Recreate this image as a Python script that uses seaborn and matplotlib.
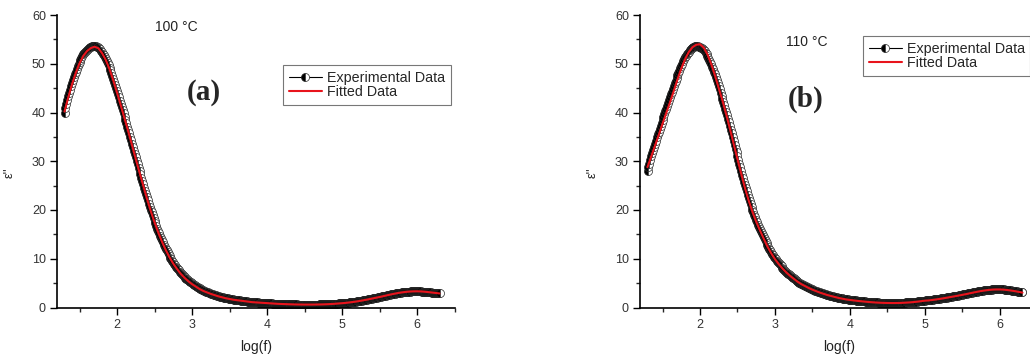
import numpy as np
import pandas as pd
import matplotlib
matplotlib.use("Agg")
import matplotlib.pyplot as plt
from matplotlib.lines import Line2D
from matplotlib.ticker import MultipleLocator
import seaborn as sns

# ---- 100 °C : measured loss ε'' ----
# one row per 0.1 decade, log(f) = 1.3000 ... 6.3000 in steps of 0.0125
exp_100 = [
    40.0, 40.85, 41.7, 42.5, 43.3, 44.0, 44.7, 45.35,
    46.0, 46.65, 47.3, 47.85, 48.4, 48.95, 49.5, 49.95,
    50.4, 50.8, 51.2, 51.55, 51.9, 52.2, 52.5, 52.7,
    52.9, 53.1, 53.3, 53.4, 53.5, 53.6, 53.65, 53.68,
    53.7, 53.65, 53.6, 53.5, 53.4, 53.2, 53.0, 52.7,
    52.4, 52.1, 51.8, 51.4, 51.0, 50.6, 50.2, 49.7,
    49.2, 48.65, 48.1, 47.5, 46.9, 46.3, 45.7, 45.05,
    44.4, 43.75, 43.1, 42.45, 41.8, 41.15, 40.5, 39.8,
    39.1, 38.45, 37.8, 37.1, 36.4, 35.7, 35.0, 34.3,
    33.6, 32.9, 32.2, 31.5, 30.8, 30.1, 29.4, 28.7,
    28.0, 27.3, 26.6, 25.95, 25.3, 24.6, 23.9, 23.25,
    22.6, 21.95, 21.3, 20.7, 20.1, 19.5, 18.9, 18.35,
    17.8, 17.25, 16.7, 16.2, 15.7, 15.2, 14.7, 14.25,
    13.8, 13.35, 12.9, 12.5, 12.1, 11.7, 11.3, 10.95,
    10.6, 10.25, 9.9, 9.6, 9.3, 9.0, 8.7, 8.4,
    8.1, 7.85, 7.6, 7.35, 7.1, 6.9, 6.7, 6.5,
    6.3, 6.1, 5.9, 5.75, 5.6, 5.45, 5.3, 5.15,
    5.0, 4.85, 4.7, 4.55, 4.4, 4.27, 4.15, 4.02,
    3.9, 3.8, 3.7, 3.6, 3.5, 3.42, 3.35, 3.27,
    3.2, 3.1, 3.0, 2.92, 2.85, 2.78, 2.72, 2.66,
    2.6, 2.53, 2.47, 2.41, 2.35, 2.3, 2.25, 2.2,
    2.15, 2.1, 2.05, 2.0, 1.95, 1.91, 1.87, 1.83,
    1.8, 1.76, 1.72, 1.68, 1.65, 1.61, 1.58, 1.55,
    1.52, 1.5, 1.47, 1.45, 1.42, 1.4, 1.37, 1.35,
    1.32, 1.3, 1.27, 1.25, 1.22, 1.2, 1.17, 1.15,
    1.12, 1.1, 1.09, 1.07, 1.06, 1.04, 1.03, 1.01,
    1.0, 0.98, 0.97, 0.96, 0.95, 0.93, 0.92, 0.91,
    0.9, 0.88, 0.87, 0.86, 0.85, 0.83, 0.82, 0.81,
    0.8, 0.79, 0.78, 0.77, 0.76, 0.75, 0.74, 0.73,
    0.72, 0.71, 0.7, 0.69, 0.69, 0.68, 0.67, 0.66,
    0.66, 0.65, 0.65, 0.64, 0.64, 0.63, 0.63, 0.62,
    0.62, 0.61, 0.61, 0.61, 0.61, 0.6, 0.6, 0.6,
    0.6, 0.6, 0.6, 0.6, 0.6, 0.6, 0.6, 0.6,
    0.6, 0.6, 0.6, 0.6, 0.61, 0.61, 0.61, 0.61,
    0.62, 0.62, 0.63, 0.63, 0.64, 0.64, 0.65, 0.66,
    0.67, 0.68, 0.69, 0.7, 0.71, 0.72, 0.73, 0.74,
    0.76, 0.77, 0.79, 0.8, 0.82, 0.83, 0.85, 0.86,
    0.88, 0.89, 0.91, 0.93, 0.95, 0.97, 0.99, 1.01,
    1.04, 1.06, 1.09, 1.11, 1.14, 1.16, 1.19, 1.22,
    1.25, 1.28, 1.31, 1.34, 1.38, 1.41, 1.45, 1.48,
    1.52, 1.55, 1.59, 1.63, 1.67, 1.71, 1.75, 1.79,
    1.83, 1.87, 1.91, 1.95, 1.99, 2.03, 2.07, 2.11,
    2.15, 2.19, 2.23, 2.27, 2.32, 2.36, 2.41, 2.45,
    2.5, 2.54, 2.58, 2.62, 2.67, 2.71, 2.75, 2.79,
    2.83, 2.87, 2.91, 2.94, 2.98, 3.01, 3.04, 3.07,
    3.1, 3.12, 3.15, 3.17, 3.2, 3.22, 3.24, 3.25,
    3.27, 3.28, 3.29, 3.3, 3.31, 3.31, 3.32, 3.32,
    3.32, 3.31, 3.31, 3.3, 3.3, 3.28, 3.27, 3.25,
    3.24, 3.22, 3.2, 3.18, 3.16, 3.14, 3.12, 3.09,
    3.07, 3.04, 3.02, 3.0, 2.98, 2.95, 2.93, 2.9,
    2.88,
]

# ---- 110 °C : measured loss ε'', same frequency grid ----
exp_110 = [
    28.0, 28.75, 29.5, 30.25, 31.0, 31.65, 32.3, 32.95,
    33.6, 34.25, 34.9, 35.5, 36.1, 36.7, 37.3, 37.9,
    38.5, 39.1, 39.7, 40.25, 40.8, 41.4, 42.0, 42.55,
    43.1, 43.7, 44.3, 44.85, 45.4, 45.95, 46.5, 47.05,
    47.6, 48.1, 48.6, 49.1, 49.6, 50.05, 50.5, 50.9,
    51.3, 51.65, 51.95, 52.25, 52.5, 52.75, 52.95, 53.15,
    53.3, 53.4, 53.5, 53.55, 53.6, 53.6, 53.55, 53.5,
    53.4, 53.3, 53.15, 53.0, 52.8, 52.55, 52.25, 51.95,
    51.6, 51.2, 50.8, 50.35, 49.9, 49.4, 48.9, 48.35,
    47.8, 47.2, 46.6, 46.0, 45.4, 44.75, 44.1, 43.45,
    42.8, 42.15, 41.5, 40.8, 40.1, 39.4, 38.7, 37.95,
    37.2, 36.45, 35.7, 34.9, 34.1, 33.35, 32.6, 31.8,
    31.0, 30.25, 29.5, 28.75, 28.0, 27.25, 26.5, 25.8,
    25.1, 24.45, 23.8, 23.15, 22.5, 21.9, 21.3, 20.7,
    20.1, 19.55, 19.0, 18.5, 18.0, 17.5, 17.0, 16.55,
    16.1, 15.65, 15.2, 14.8, 14.4, 14.0, 13.6, 13.2,
    12.8, 12.45, 12.1, 11.75, 11.4, 11.05, 10.7, 10.4,
    10.1, 9.85, 9.6, 9.35, 9.1, 8.87, 8.65, 8.42,
    8.2, 7.97, 7.75, 7.52, 7.3, 7.12, 6.95, 6.77,
    6.6, 6.43, 6.27, 6.11, 5.95, 5.8, 5.65, 5.5,
    5.35, 5.22, 5.1, 4.97, 4.85, 4.75, 4.65, 4.55,
    4.45, 4.35, 4.25, 4.15, 4.05, 3.96, 3.87, 3.78,
    3.7, 3.62, 3.55, 3.47, 3.4, 3.32, 3.25, 3.17,
    3.1, 3.03, 2.97, 2.91, 2.85, 2.78, 2.72, 2.66,
    2.6, 2.55, 2.5, 2.45, 2.4, 2.35, 2.3, 2.25,
    2.2, 2.15, 2.1, 2.05, 2.0, 1.96, 1.92, 1.88,
    1.85, 1.81, 1.77, 1.73, 1.7, 1.67, 1.65, 1.62,
    1.6, 1.57, 1.55, 1.52, 1.5, 1.47, 1.45, 1.42,
    1.4, 1.38, 1.36, 1.34, 1.32, 1.3, 1.28, 1.26,
    1.24, 1.22, 1.2, 1.18, 1.17, 1.15, 1.13, 1.11,
    1.1, 1.08, 1.07, 1.06, 1.05, 1.04, 1.03, 1.02,
    1.01, 1.0, 0.99, 0.98, 0.98, 0.97, 0.97, 0.96,
    0.96, 0.95, 0.95, 0.95, 0.95, 0.95, 0.95, 0.95,
    0.95, 0.95, 0.95, 0.95, 0.96, 0.96, 0.97, 0.98,
    0.99, 1.0, 1.01, 1.02, 1.03, 1.04, 1.05, 1.06,
    1.08, 1.09, 1.11, 1.13, 1.15, 1.17, 1.19, 1.21,
    1.23, 1.25, 1.27, 1.29, 1.32, 1.34, 1.37, 1.39,
    1.42, 1.44, 1.46, 1.48, 1.5, 1.52, 1.55, 1.57,
    1.6, 1.62, 1.65, 1.67, 1.7, 1.73, 1.76, 1.79,
    1.82, 1.85, 1.88, 1.91, 1.95, 1.98, 2.01, 2.04,
    2.08, 2.11, 2.15, 2.18, 2.22, 2.25, 2.29, 2.32,
    2.36, 2.39, 2.43, 2.46, 2.5, 2.53, 2.57, 2.61,
    2.65, 2.68, 2.72, 2.76, 2.8, 2.84, 2.88, 2.92,
    2.96, 3.0, 3.04, 3.08, 3.12, 3.16, 3.2, 3.24,
    3.28, 3.31, 3.35, 3.38, 3.42, 3.45, 3.48, 3.51,
    3.54, 3.56, 3.59, 3.61, 3.64, 3.66, 3.68, 3.69,
    3.71, 3.72, 3.73, 3.73, 3.74, 3.74, 3.74, 3.74,
    3.74, 3.73, 3.72, 3.71, 3.7, 3.68, 3.66, 3.64,
    3.62, 3.6, 3.57, 3.54, 3.51, 3.48, 3.45, 3.42,
    3.39, 3.35, 3.32, 3.28, 3.24, 3.2, 3.17, 3.13,
    3.09,
]

# ---- fitted curves, log(f) = 1.30 ... 6.30 in steps of 0.05 ----
fit_100 = [
    40.2, 43.1, 45.8, 48.1, 50.1, 51.6, 52.6, 53.2, 53.5, 53.2,
    52.2, 50.8, 48.9, 46.6, 44.1, 41.5, 38.8, 36.1, 33.3, 30.5,
    27.7, 25.0, 22.3, 19.8, 17.5, 15.4, 13.5, 11.8, 10.3, 9.0,
    7.9, 6.9, 6.1, 5.4, 4.8, 4.3, 3.8, 3.4, 3.1, 2.8,
    2.55, 2.3, 2.1, 1.9, 1.75, 1.6, 1.5, 1.4, 1.3, 1.2,
    1.1, 1.05, 1.0, 0.95, 0.9, 0.85, 0.8, 0.75, 0.72, 0.69,
    0.66, 0.64, 0.62, 0.61, 0.6, 0.6, 0.6, 0.61, 0.62, 0.64,
    0.67, 0.71, 0.76, 0.82, 0.88, 0.95, 1.04, 1.14, 1.25, 1.38,
    1.52, 1.67, 1.83, 1.99, 2.15, 2.32, 2.5, 2.67, 2.83, 2.98,
    3.1, 3.2, 3.27, 3.31, 3.32, 3.3, 3.24, 3.16, 3.07, 2.98,
    2.88,
]
fit_110 = [
    28.8, 31.0, 33.2, 35.4, 37.7, 39.9, 42.1, 44.4, 46.8, 49.0,
    50.9, 52.4, 53.4, 53.9, 54.0, 53.3, 51.9, 49.9, 47.6, 45.0,
    42.4, 39.6, 36.6, 33.5, 30.4, 27.4, 24.5, 21.9, 19.6, 17.6,
    15.8, 14.1, 12.5, 11.1, 9.9, 8.9, 8.0, 7.2, 6.5, 5.9,
    5.3, 4.8, 4.4, 4.0, 3.65, 3.35, 3.05, 2.8, 2.55, 2.35,
    2.15, 1.95, 1.8, 1.65, 1.55, 1.45, 1.36, 1.28, 1.2, 1.13,
    1.07, 1.02, 0.98, 0.95, 0.93, 0.92, 0.92, 0.93, 0.96, 1.0,
    1.05, 1.12, 1.2, 1.3, 1.4, 1.45, 1.55, 1.65, 1.77, 1.9,
    2.03, 2.17, 2.31, 2.45, 2.6, 2.75, 2.92, 3.08, 3.24, 3.38,
    3.5, 3.6, 3.67, 3.7, 3.7, 3.66, 3.58, 3.47, 3.35, 3.2,
    3.05,
]

# frequency grids (log10 of f)
log_f_exp = [round(1.30 + 0.0125 * i, 4) for i in range(len(exp_100))]
log_f_fit = [round(1.30 + 0.05 * i, 2) for i in range(len(fit_100))]

panels = [
    {"exp": exp_100, "fit": fit_100, "temp": "100 °C", "tag": "(a)",
     "left": 57, "temp_xy": (2.79, 57.5), "tag_xy": (3.16, 44.0),
     "leg_anchor": (0.569, 0.829)},
    {"exp": exp_110, "fit": fit_110, "temp": "110 °C", "tag": "(b)",
     "left": 640, "temp_xy": (3.43, 54.5), "tag_xy": (3.41, 42.6),
     "leg_anchor": (0.561, 0.928)},
]

# half-filled circle: left half black, right half white
marker_style = dict(marker="o", markersize=5.8, fillstyle="left",
                    markerfacecolor="black", markerfacecoloralt="white",
                    markeredgecolor="#2a2a2a", markeredgewidth=0.5)
fit_color = "#e8141c"

sns.set_style("ticks")
plt.rcParams["font.family"] = ["Liberation Sans", "DejaVu Sans"]

W, H = 1030, 358
fig = plt.figure(figsize=(W / 100, H / 100), dpi=100)

ax_w = 397.5
y_top, y_bot = 15, 307.5

for p in panels:
    ax = fig.add_axes([p["left"] / W, (H - y_bot) / H, ax_w / W, (y_bot - y_top) / H])
    df_exp = pd.DataFrame({"log_f": log_f_exp, "eps2": p["exp"]})
    df_fit = pd.DataFrame({"log_f": log_f_fit, "eps2": p["fit"]})

    # thin connecting line of the measured points
    sns.lineplot(data=df_exp, x="log_f", y="eps2", ax=ax, color="black",
                 lw=0.8, zorder=2)
    # each symbol is drawn whole, one after another, so later points overlap
    # earlier ones the way a point-by-point plotter renders them
    for xv, yv in zip(df_exp["log_f"], df_exp["eps2"]):
        ax.plot([xv], [yv], linestyle="none", zorder=2, **marker_style)
    sns.lineplot(data=df_fit, x="log_f", y="eps2", ax=ax, color=fit_color,
                 lw=1.5, zorder=3)

    ax.set_xlim(1.2, 6.5)
    ax.set_ylim(0, 60)
    ax.xaxis.set_major_locator(MultipleLocator(1))
    ax.xaxis.set_minor_locator(MultipleLocator(0.5))
    ax.yaxis.set_major_locator(MultipleLocator(10))
    ax.yaxis.set_minor_locator(MultipleLocator(5))
    ax.tick_params(which="major", direction="out", length=5, width=1.0,
                   labelsize=9, colors="black", labelcolor="#333333", pad=3)
    ax.tick_params(which="minor", direction="out", length=3, width=1.0)
    for side in ("top", "right"):
        ax.spines[side].set_visible(False)
    for side in ("left", "bottom"):
        ax.spines[side].set_linewidth(1.2)
        ax.spines[side].set_color("black")

    ax.set_xlabel("log(f)", fontsize=10, color="#222222")
    ax.xaxis.set_label_coords(0.5, -0.11)
    ax.set_ylabel("ε''", fontsize=9, color="#222222")
    ax.yaxis.set_label_coords(-0.105, 0.46)

    ax.text(*p["temp_xy"], p["temp"], fontsize=10, ha="center", va="center",
            color="#222222")
    ax.text(*p["tag_xy"], p["tag"], fontsize=21, fontweight="bold",
            family=["Liberation Serif", "DejaVu Serif"], ha="center", va="center")

    handles = [
        Line2D([], [], color="black", lw=0.8, **marker_style),
        Line2D([], [], color=fit_color, lw=1.5),
    ]
    leg = ax.legend(handles, ["Experimental Data", "Fitted Data"], loc="upper left",
                    bbox_to_anchor=p["leg_anchor"], fontsize=10.3,
                    frameon=True, fancybox=False, framealpha=1,
                    edgecolor="#777777", borderpad=0.4, labelspacing=0.02,
                    handlelength=2.3, handletextpad=0.35, numpoints=1,
                    borderaxespad=0)
    leg.get_frame().set_linewidth(0.8)

fig.savefig("out.png", dpi=100)
